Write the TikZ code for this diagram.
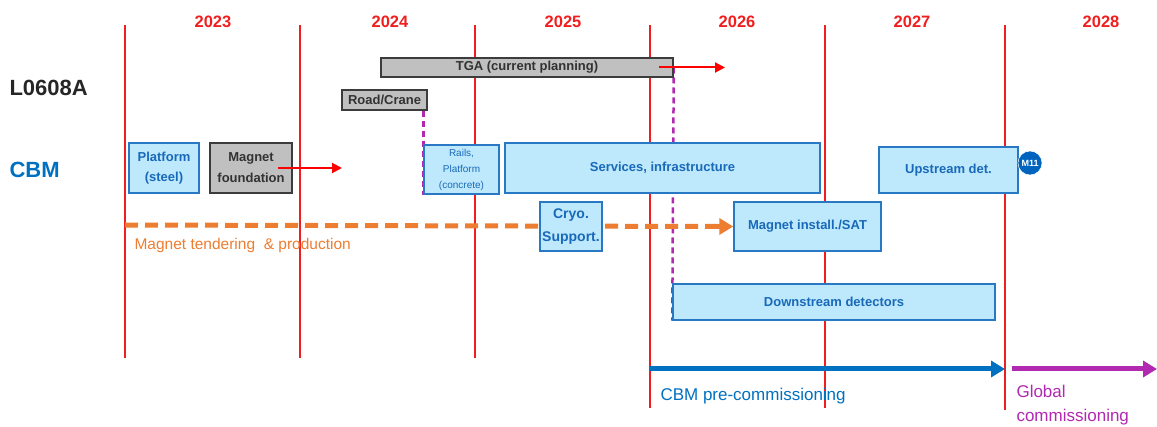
\documentclass[tikz,border=0pt]{standalone}
\usepackage{fontspec}
\setmainfont{Liberation Sans}
\usetikzlibrary{arrows.meta,backgrounds}
\definecolor{yearred}{RGB}{240,30,30}
\definecolor{cbmblue}{RGB}{0,112,192}
\definecolor{boxfill}{RGB}{190,233,252}
\definecolor{boxedge}{RGB}{40,120,195}
\definecolor{boxtext}{RGB}{25,105,185}
\definecolor{grayfill}{RGB}{192,192,192}
\definecolor{grayedge}{RGB}{60,60,60}
\definecolor{graytext}{RGB}{50,50,50}
\definecolor{labelgray}{RGB}{38,38,38}
\definecolor{orangec}{RGB}{237,125,49}
\definecolor{purplec}{RGB}{177,40,177}
\definecolor{m11blue}{RGB}{0,100,190}
\tikzset{
  bluebox/.style={draw=boxedge,fill=boxfill,line width=1.5pt,text=boxtext,align=center,inner sep=1pt,
    font=\fontsize{13}{20}\selectfont\bfseries},
  graybox/.style={draw=grayedge,fill=grayfill,line width=1.5pt,text=graytext,align=center,inner sep=1pt,
    font=\fontsize{13}{21}\selectfont\bfseries},
  yearlbl/.style={text=yearred,font=\fontsize{16.5}{18}\selectfont\bfseries},
  rowlbl/.style={anchor=west,font=\fontsize{22}{24}\selectfont\bfseries},
  yearline/.style={draw=yearred,line width=1.2pt},
  redarrow/.style={draw=red,line width=2pt,-{Triangle[length=10pt,width=10pt]}},
  purpledash/.style={draw=purplec,line width=2.5pt,dash pattern=on 6pt off 4pt},
  thickarrow/.style={line width=5pt,-{Triangle[length=14pt,width=16pt]}},
  bottomlbl/.style={anchor=west,font=\fontsize{17}{24}\selectfont,align=left}
}
\begin{document}
\begin{tikzpicture}[x=1pt,y=-1pt]
\useasboundingbox (0,0) rectangle (1157,427);
% year labels
\node[yearlbl] (y23) at (213,22) {2023};
\node[yearlbl] (y24) at (390,22) {2024};
\node[yearlbl] (y25) at (563,22) {2025};
\node[yearlbl] (y26) at (737,22) {2026};
\node[yearlbl] (y27) at (912,22) {2027};
\node[yearlbl] (y28) at (1101,22) {2028};
% row labels
\node[rowlbl,text=labelgray] (l0608) at (6,88) {L0608A};
\node[rowlbl,text=cbmblue] (cbm) at (6,170) {CBM};
% boxes
\node[graybox,minimum width=292pt,minimum height=19pt] (tga) at (527,67.5) {TGA (current planning)};
\node[graybox,minimum width=85pt,minimum height=20pt] (road) at (384.5,100) {Road/Crane};
\node[bluebox,minimum width=70pt,minimum height=50pt] (plat) at (164,168) {Platform\\(steel)};
\node[graybox,minimum width=82pt,minimum height=50pt] (mf) at (251,168) {Magnet\\foundation};
\node[bluebox,minimum width=75pt,minimum height=49pt,font=\fontsize{10}{16}\selectfont] (rails) at (461.5,169.5) {Rails,\\Platform\\(concrete)};
\node[bluebox,minimum width=315pt,minimum height=50pt] (serv) at (662.5,168) {Services, infrastructure};
\node[bluebox,minimum width=139pt,minimum height=46pt] (up) at (948.5,170) {Upstream det.};
\node[circle,fill=m11blue,draw=white,line width=0.5pt,minimum size=24pt,inner sep=0pt,text=white,
  font=\fontsize{9}{10}\selectfont\bfseries] (m11) at (1030,163) {M11};
\node[bluebox,minimum width=62pt,minimum height=49pt,font=\fontsize{14}{23}\selectfont\bfseries] (cryo) at (571,226.5) {Cryo.\\Support.};
\node[bluebox,minimum width=147pt,minimum height=49pt] (minst) at (807.5,226.5) {Magnet install./SAT};
\node[bluebox,minimum width=322pt,minimum height=36pt] (down) at (834,302) {Downstream detectors};
% coordinates
\coordinate (orstart) at (125,225);
\coordinate (mfend) at (342,168);
\coordinate (tgaend) at (725,67.5);
\coordinate (bstart) at (650,369);
\coordinate (bend) at (1005,369);
\coordinate (pstart) at (1012,369);
\coordinate (pend) at (1157,369);
\begin{scope}[on background layer]
  \foreach \x/\b in {125/358,300/358,475/358,650/408,825/408,1005/410}
    \draw[yearline] (\x,25) -- (\x,\b);
  \draw[purpledash] (road.south -| rails.west) -- (rails.south west);
  \draw[purpledash] (tga.east) -- (down.south west);
  \draw[orangec,line width=5pt,dash pattern=on 13pt off 7pt] (orstart) -- ([xshift=-14pt]minst.west);
  \draw[orangec,line width=5pt,-{Triangle[length=14pt,width=16pt]}] ([xshift=-16pt]minst.west) -- (minst.west);
\end{scope}
% arrows
\draw[redarrow] ([xshift=-15pt]mf.east) -- (mfend);
\draw[redarrow] ([xshift=-15pt]tga.east) -- (tgaend);
\draw[thickarrow,cbmblue] (bstart) -- (bend);
\draw[thickarrow,purplec] (pstart) -- (pend);
% labels
\node[anchor=west,text=orangec,font=\fontsize{15.5}{18}\selectfont] (tend) at (131,245) {Magnet tendering \ \& production};
\node[bottomlbl,text=cbmblue] (pre) at (657,396) {CBM pre-commissioning};
\node[bottomlbl,text=purplec,anchor=north west] (glob) at (1013,382) {Global\\commissioning};
\end{tikzpicture}
\end{document}
